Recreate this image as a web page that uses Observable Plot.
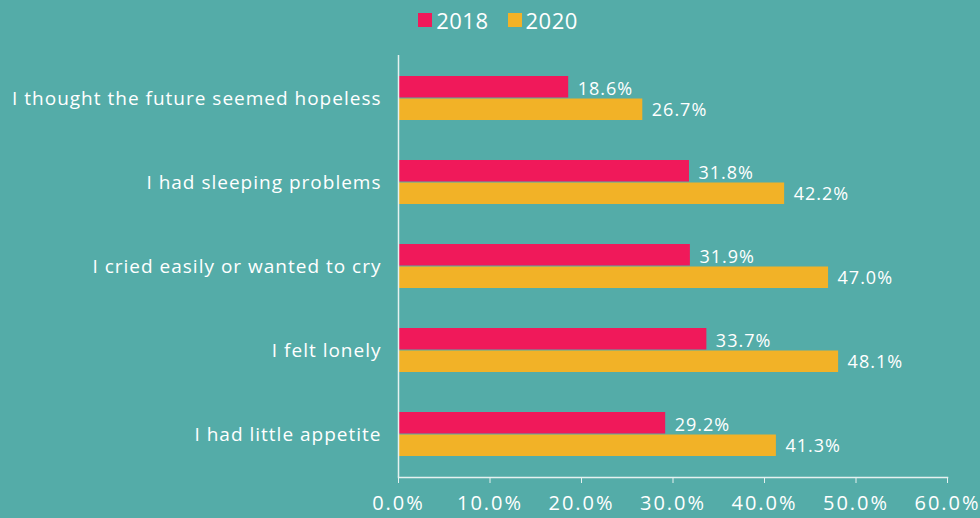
<!DOCTYPE html>
<html>
<head>
<meta charset="utf-8">
<script src="https://cdn.jsdelivr.net/npm/d3@7"></script>
<script src="https://cdn.jsdelivr.net/npm/@observablehq/plot@0.6"></script>
<style>
  html, body { margin: 0; padding: 0; background: #54aca8; }
  body { width: 980px; height: 518px; overflow: hidden; font-family: "Open Sans", sans-serif; color: white; }
  #legend { height: 40px; display: flex; justify-content: center; align-items: center; gap: 19px; font-size: 22px; padding-left: 16px; box-sizing: border-box; letter-spacing: 0.5px; }
  .item { display: flex; align-items: center; gap: 4px; }
  .sw { width: 14px; height: 14px; display: inline-block; }
  svg { display: block; }
  g[aria-label="y-axis tick label"] text { letter-spacing: 1px; }
  g[aria-label="x-axis tick label"] text { letter-spacing: 2px; }
  g[aria-label="text"] text { letter-spacing: 1px; }
</style>
</head>
<body>
<div id="legend"></div>
<div id="chart"></div>
<script>
const categories = [
  "I thought the future seemed hopeless",
  "I had sleeping problems",
  "I cried easily or wanted to cry",
  "I felt lonely",
  "I had little appetite"
];
const years = ["2018", "2020"];
const values2018 = [18.6, 31.8, 31.9, 33.7, 29.2];
const values2020 = [26.7, 42.2, 47.0, 48.1, 41.3];
const xTicks = [0, 10, 20, 30, 40, 50, 60];
const colors = ["#f0195a", "#f2b227"];

const data2018 = categories.map((c, i) => ({category: c, year: years[0], value: values2018[i]}));
const data2020 = categories.map((c, i) => ({category: c, year: years[1], value: values2020[i]}));

const legend = d3.select("#legend");
years.forEach((y, i) => {
  const it = legend.append("div").attr("class", "item");
  it.append("span").attr("class", "sw").style("background", colors[i]);
  it.append("span").text(y);
});

const fmt = d => d.toFixed(1) + "%";
const font = "'Open Sans', sans-serif";
const lineColor = "#e6f1f0";

const plot = Plot.plot({
  width: 980,
  height: 478,
  marginLeft: 398,
  marginRight: 33,
  marginTop: 15,
  marginBottom: 41,
  style: {background: "transparent", color: "white", fontFamily: font, overflow: "visible"},
  x: {domain: [0, 60]},
  y: {domain: categories, paddingInner: 0.48, paddingOuter: 0.24, label: null},
  color: {domain: years, range: colors},
  marks: [
    Plot.barX(data2018, {x: "value", y: "category", fill: "year", insetBottom: 22.5}),
    Plot.barX(data2020, {x: "value", y: "category", fill: "year", insetTop: 22.5}),
    Plot.text(data2018, {x: "value", y: "category", text: d => fmt(d.value), dx: 9, dy: -9, textAnchor: "start", fill: "white", fontSize: 18}),
    Plot.text(data2020, {x: "value", y: "category", text: d => fmt(d.value), dx: 9, dy: 12, textAnchor: "start", fill: "white", fontSize: 18}),
    Plot.ruleX([0], {stroke: lineColor, strokeWidth: 1.5}),
    Plot.frame({anchor: "bottom", stroke: lineColor, strokeWidth: 1.5}),
    Plot.axisX({ticks: xTicks, tickFormat: fmt, tickSize: 6, tickPadding: 12, stroke: lineColor, fill: "white", fontSize: 20, label: null}),
    Plot.axisY({tickSize: 0, tickPadding: 17, fill: "white", fontSize: 19, label: null})
  ]
});
document.getElementById("chart").appendChild(plot);
</script>
</body>
</html>
